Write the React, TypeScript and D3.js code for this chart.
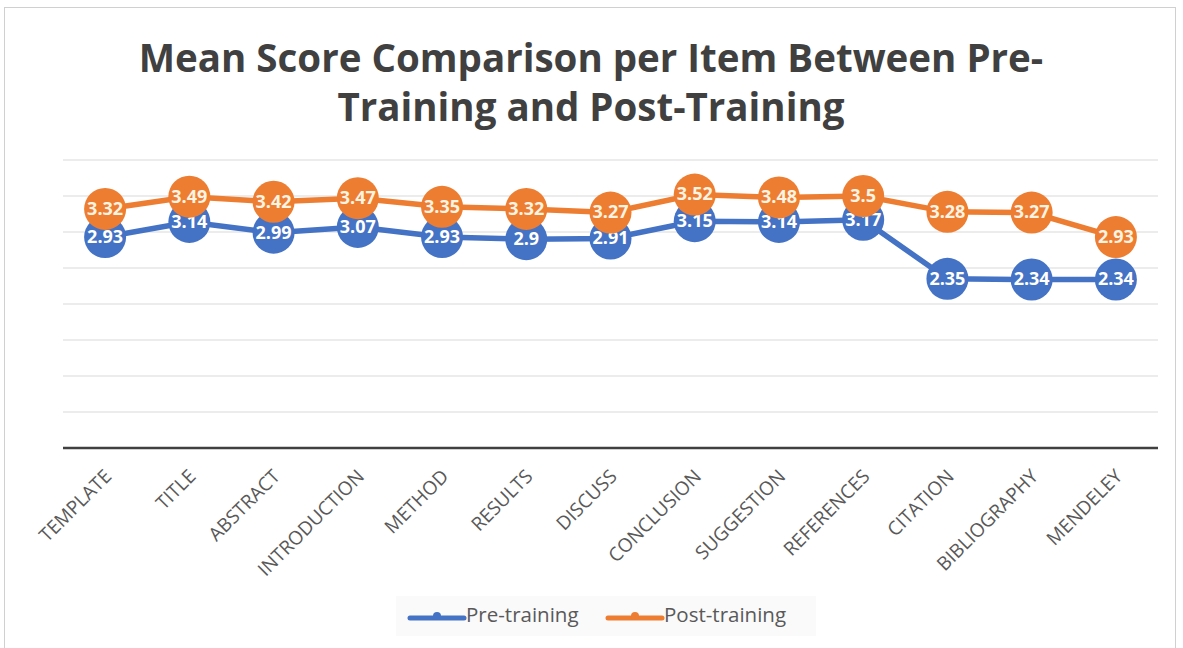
import * as React from 'react';
import * as d3 from 'd3';

const items = [
  'TEMPLATE', 'TITLE', 'ABSTRACT', 'INTRODUCTION', 'METHOD', 'RESULTS', 'DISCUSS',
  'CONCLUSION', 'SUGGESTION', 'REFERENCES', 'CITATION', 'BIBLIOGRAPHY', 'MENDELEY',
];
const preTraining = [2.93, 3.14, 2.99, 3.07, 2.93, 2.9, 2.91, 3.15, 3.14, 3.17, 2.35, 2.34, 2.34];
const postTraining = [3.32, 3.49, 3.42, 3.47, 3.35, 3.32, 3.27, 3.52, 3.48, 3.5, 3.28, 3.27, 2.93];
const gridTicks = [0.5, 1, 1.5, 2, 2.5, 3, 3.5, 4];
const titleLines = ['Mean Score Comparison per Item Between Pre-', 'Training and Post-Training'];

const width = 1183;
const height = 648;
const font = '"Open Sans", "Noto Sans", sans-serif';

const series = [
  { name: 'Pre-training', values: preTraining, color: '#4472C4', label: '#ffffff' },
  { name: 'Post-training', values: postTraining, color: '#ED7D31', label: '#fff4e2' },
];

export default function App() {
  const x = d3.scaleBand<string>().domain(items).range([63, 1158]);
  const y = d3.scaleLinear().domain([0, 4]).range([448, 160]);
  const cx = (d: string) => (x(d) as number) + x.bandwidth() / 2;

  const line = d3
    .line<number>()
    .x((_, i) => cx(items[i]))
    .y((v) => y(v));

  return (
    <svg width={width} height={height} style={{ position: 'absolute', left: 0, top: 0, fontFamily: font }}>
      <rect x={0} y={0} width={width} height={height} fill="#fff" />
      <rect x={4.5} y={7.5} width={1171} height={660} fill="none" stroke="#d0d0d0" />

      {/* title */}
      {titleLines.map((t, i) => (
        <text key={t} x={591} y={72 + i * 49} textAnchor="middle" fontSize={38.5} fontWeight={700} fill="#404040">
          {t}
        </text>
      ))}

      {/* gridlines */}
      {gridTicks.map((t) => (
        <line key={t} x1={63} x2={1158} y1={y(t)} y2={y(t)} stroke="#d9d9d9" strokeWidth={1} />
      ))}
      <line x1={63} x2={1158} y1={y(0)} y2={y(0)} stroke="#404040" strokeWidth={2.5} />

      {/* category labels */}
      {items.map((d) => (
        <text
          key={d}
          transform={`translate(${cx(d) + 4},${y(0) + 26}) rotate(-45)`}
          textAnchor="end"
          dominantBaseline="middle"
          fontSize={19}
          fill="#595959"
        >
          {d}
        </text>
      ))}

      {/* series */}
      {series.map((s) => (
        <g key={s.name}>
          <path d={line(s.values) as string} fill="none" stroke={s.color} strokeWidth={5.5} />
          {s.values.map((v, i) => (
            <circle key={i} cx={cx(items[i])} cy={y(v)} r={21} fill={s.color} />
          ))}
          {s.values.map((v, i) => (
            <text
              key={'l' + i}
              x={cx(items[i])}
              y={y(v) + 1}
              textAnchor="middle"
              dominantBaseline="middle"
              fontSize={18}
              fontWeight={700}
              fill={s.label}
            >
              {v}
            </text>
          ))}
        </g>
      ))}

      {/* legend */}
      <rect x={396} y={596} width={420} height={40} fill="#fafafa" />
      {series.map((s, i) => {
        const lx = 410 + i * 198;
        return (
          <g key={s.name}>
            <line x1={lx} x2={lx + 54} y1={618} y2={618} stroke={s.color} strokeWidth={5} strokeLinecap="round" />
            <circle cx={lx + 27} cy={616} r={4} fill={s.color} />
            <text x={lx + 56} y={617} dominantBaseline="middle" fontSize={20.5} fill="#595959">
              {s.name}
            </text>
          </g>
        );
      })}
    </svg>
  );
}
